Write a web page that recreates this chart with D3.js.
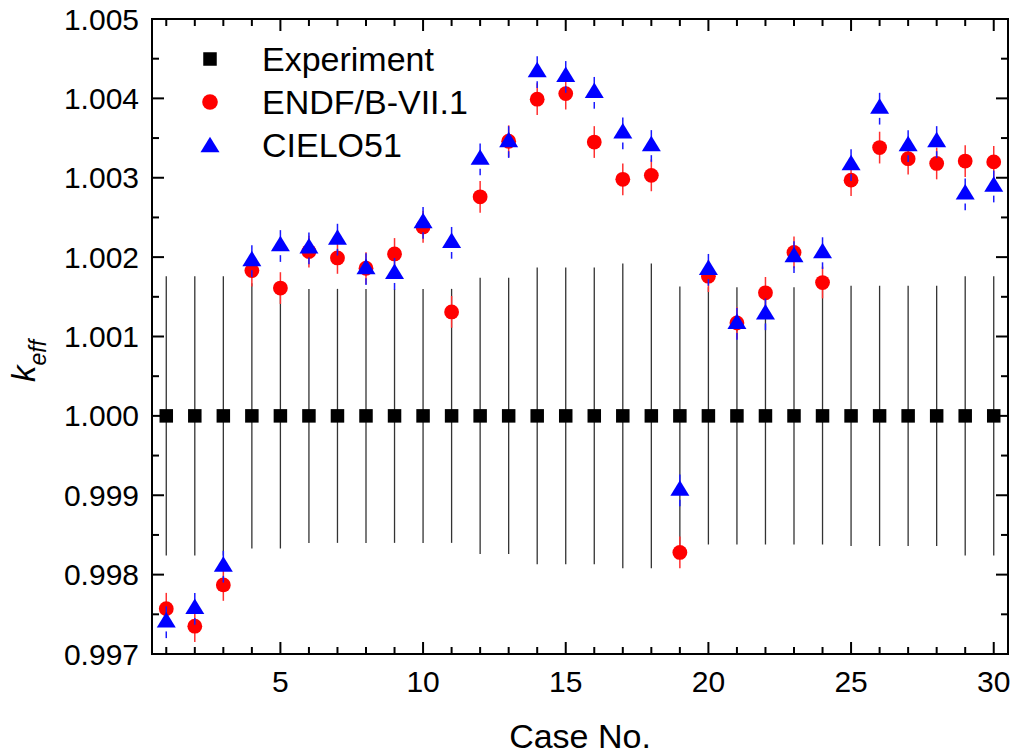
<!DOCTYPE html>
<html>
<head>
<meta charset="utf-8">
<script src="https://cdn.jsdelivr.net/npm/d3@7/dist/d3.min.js"></script>
<style>
  body { margin: 0; background: #fff; }
  svg { display: block; font-family: "Liberation Sans", Arial, sans-serif; }
</style>
</head>
<body>
<svg id="chart" width="1014" height="756"></svg>
<script>
// case numbers 1..30
var cases = [1, 2, 3, 4, 5, 6, 7, 8, 9, 10, 11, 12, 13, 14, 15,
             16, 17, 18, 19, 20, 21, 22, 23, 24, 25, 26, 27, 28, 29, 30];

var expValues = [1.000, 1.000, 1.000, 1.000, 1.000, 1.000, 1.000, 1.000, 1.000, 1.000,
                 1.000, 1.000, 1.000, 1.000, 1.000, 1.000, 1.000, 1.000, 1.000, 1.000,
                 1.000, 1.000, 1.000, 1.000, 1.000, 1.000, 1.000, 1.000, 1.000, 1.000];
var expErrors = [0.00176, 0.00176, 0.00176, 0.00167, 0.00167, 0.0016, 0.0016, 0.0016, 0.0016, 0.0016,
                 0.0016, 0.00174, 0.00174, 0.00187, 0.00187, 0.00187, 0.00192, 0.00192, 0.00163, 0.00162,
                 0.00162, 0.00162, 0.00162, 0.00162, 0.00164, 0.00164, 0.00164, 0.00164, 0.00176, 0.00176];

var endfValues = [0.99757, 0.99735, 0.99787, 1.00183, 1.00161, 1.00207, 1.00199, 1.00186, 1.00204, 1.00238,
                  1.00131, 1.00276, 1.00346, 1.00399, 1.00406, 1.00345, 1.00298, 1.00303, 0.99828, 1.00176,
                  1.00117, 1.00155, 1.00206, 1.00168, 1.00297, 1.00338, 1.00324, 1.00318, 1.00321, 1.00320];
var endfErrors = [0.0002, 0.0002, 0.0002, 0.0002, 0.0002, 0.0002, 0.0002, 0.0002, 0.0002, 0.0002,
                  0.0002, 0.0002, 0.0002, 0.0002, 0.0002, 0.0002, 0.0002, 0.0002, 0.0002, 0.0002,
                  0.0002, 0.0002, 0.0002, 0.0002, 0.0002, 0.0002, 0.0002, 0.0002, 0.0002, 0.0002];

var cieloValues = [0.99740, 0.99757, 0.99810, 1.00195, 1.00214, 1.00211, 1.00222, 1.00185, 1.00179, 1.00243,
                   1.00218, 1.00323, 1.00345, 1.00433, 1.00427, 1.00407, 1.00356, 1.00340, 0.99906, 1.00184,
                   1.00116, 1.00128, 1.00200, 1.00205, 1.00316, 1.00387, 1.00340, 1.00345, 1.00279, 1.00289];
var cieloErrors = [0.0002, 0.0002, 0.0002, 0.0002, 0.0002, 0.0002, 0.0002, 0.0002, 0.0002, 0.0002,
                   0.0002, 0.0002, 0.0002, 0.0002, 0.0002, 0.0002, 0.0002, 0.0002, 0.0002, 0.0002,
                   0.0002, 0.0002, 0.0002, 0.0002, 0.0002, 0.0002, 0.0002, 0.0002, 0.0002, 0.0002];

var xTicks = [5, 10, 15, 20, 25, 30];
var yTicks = [0.997, 0.998, 0.999, 1.000, 1.001, 1.002, 1.003, 1.004, 1.005];
var legendLabels = ['Experiment', 'ENDF/B-VII.1', 'CIELO51'];

var svg = d3.select('#chart');
var pLeft = 152, pRight = 1008, pTop = 19, pBottom = 654;

var x = d3.scaleLinear().domain([0.5, 30.5]).range([pLeft, pRight]);
var y = d3.scaleLinear().domain([0.997, 1.005]).range([pBottom, pTop]);

var SQ = 13.5, CR = 7.4, TW = 19, TH = 15.5;

// triangle positioned by its centroid, apex up
function triPath(cx, cy) {
    return 'M' + cx + ',' + (cy - TH * 2 / 3) +
           'L' + (cx + TW / 2) + ',' + (cy + TH / 3) +
           'L' + (cx - TW / 2) + ',' + (cy + TH / 3) + 'Z';
}

function zip(vals, errs) {
    return cases.map(function(c, i) { return {c: c, v: vals[i], e: errs[i]}; });
}

// ---- axes (inward ticks on all four sides)
var minorX = d3.range(1, 31);
var minorY = d3.range(0, 17).map(function(i) { return 0.997 + i * 0.0005; });

function tickLen(isMajor) { return isMajor ? 12 : 7; }

var axes = svg.append('g').attr('stroke', '#000').attr('stroke-width', 2);
minorX.forEach(function(t) {
    var len = tickLen(t % 5 == 0);
    axes.append('line').attr('x1', x(t)).attr('x2', x(t)).attr('y1', pBottom).attr('y2', pBottom - len);
    axes.append('line').attr('x1', x(t)).attr('x2', x(t)).attr('y1', pTop).attr('y2', pTop + len);
});
minorY.forEach(function(t, i) {
    var len = tickLen(i % 2 == 0);
    axes.append('line').attr('x1', pLeft).attr('x2', pLeft + len).attr('y1', y(t)).attr('y2', y(t));
    axes.append('line').attr('x1', pRight).attr('x2', pRight - len).attr('y1', y(t)).attr('y2', y(t));
});

svg.append('g').selectAll('text')
    .data(xTicks)
    .enter()
    .append('text')
        .attr('x', function(d) { return x(d); })
        .attr('y', 692)
        .attr('text-anchor', 'middle')
        .attr('font-size', 30)
        .text(function(d) { return d; });

svg.append('g').selectAll('text')
    .data(yTicks)
    .enter()
    .append('text')
        .attr('x', 139)
        .attr('y', function(d) { return y(d) + 10.5; })
        .attr('text-anchor', 'end')
        .attr('font-size', 30)
        .text(function(d) { return d3.format('.3f')(d); });

svg.append('text')
    .attr('x', 580).attr('y', 748)
    .attr('text-anchor', 'middle')
    .attr('font-size', 34)
    .text('Case No.');

var yTitle = svg.append('text')
    .attr('transform', 'translate(35,382) rotate(-90)')
    .attr('font-size', 33)
    .attr('font-style', 'italic');
yTitle.append('tspan').text('k');
yTitle.append('tspan').attr('font-size', 23).attr('dy', 11).text('eff');

// ---- experiment
var expData = zip(expValues, expErrors);
var plot = svg.append('g');
plot.append('g').selectAll('line')
    .data(expData)
    .enter()
    .append('line')
        .attr('x1', function(d) { return x(d.c); })
        .attr('x2', function(d) { return x(d.c); })
        .attr('y1', function(d) { return y(d.v + d.e); })
        .attr('y2', function(d) { return y(d.v - d.e); })
        .attr('stroke', '#333')
        .attr('stroke-width', 1.3);
plot.append('g').selectAll('rect')
    .data(expData)
    .enter()
    .append('rect')
        .attr('x', function(d) { return x(d.c) - SQ / 2; })
        .attr('y', function(d) { return y(d.v) - SQ / 2; })
        .attr('width', SQ)
        .attr('height', SQ)
        .attr('fill', '#000');

// ---- ENDF/B-VII.1
var endfData = zip(endfValues, endfErrors);
plot.append('g').selectAll('line')
    .data(endfData)
    .enter()
    .append('line')
        .attr('x1', function(d) { return x(d.c); })
        .attr('x2', function(d) { return x(d.c); })
        .attr('y1', function(d) { return y(d.v + d.e); })
        .attr('y2', function(d) { return y(d.v - d.e); })
        .attr('stroke', '#ff3030')
        .attr('stroke-width', 1.5);
plot.append('g').selectAll('circle')
    .data(endfData)
    .enter()
    .append('circle')
        .attr('cx', function(d) { return x(d.c); })
        .attr('cy', function(d) { return y(d.v); })
        .attr('r', CR)
        .attr('fill', '#ff0000');

// ---- CIELO51 (lower bar leaves a small gap under the marker)
var cieloData = zip(cieloValues, cieloErrors);
var cBars = plot.append('g').attr('stroke', '#1a1aff').attr('stroke-width', 1.5);
cieloData.forEach(function(d) {
    var cx = x(d.c), cy = y(d.v);
    cBars.append('line').attr('x1', cx).attr('x2', cx).attr('y1', y(d.v + d.e)).attr('y2', cy);
    var gapStart = cy + TH / 3 + 4;
    if (gapStart < y(d.v - d.e))
        cBars.append('line').attr('x1', cx).attr('x2', cx).attr('y1', gapStart).attr('y2', y(d.v - d.e));
});
plot.append('g').selectAll('path')
    .data(cieloData)
    .enter()
    .append('path')
        .attr('d', function(d) { return triPath(x(d.c), y(d.v)); })
        .attr('fill', '#0000ff');

// ---- frame
svg.append('rect')
    .attr('x', pLeft).attr('y', pTop)
    .attr('width', pRight - pLeft).attr('height', pBottom - pTop)
    .attr('fill', 'none')
    .attr('stroke', '#000')
    .attr('stroke-width', 2);

// ---- legend
var legend = svg.append('g');
var legendY = [59, 102, 145];
legendLabels.forEach(function(label, i) {
    var cy = legendY[i];
    if (i == 0)
        legend.append('rect').attr('x', 210 - SQ / 2).attr('y', cy - SQ / 2)
            .attr('width', SQ).attr('height', SQ).attr('fill', '#000');
    else if (i == 1)
        legend.append('circle').attr('cx', 210).attr('cy', cy).attr('r', CR + 0.4).attr('fill', '#ff0000');
    else
        legend.append('path').attr('d', triPath(210, cy + 2)).attr('fill', '#0000ff');
    legend.append('text')
        .attr('x', 262)
        .attr('y', cy + 12)
        .attr('font-size', 34)
        .text(label);
});
</script>
</body>
</html>
